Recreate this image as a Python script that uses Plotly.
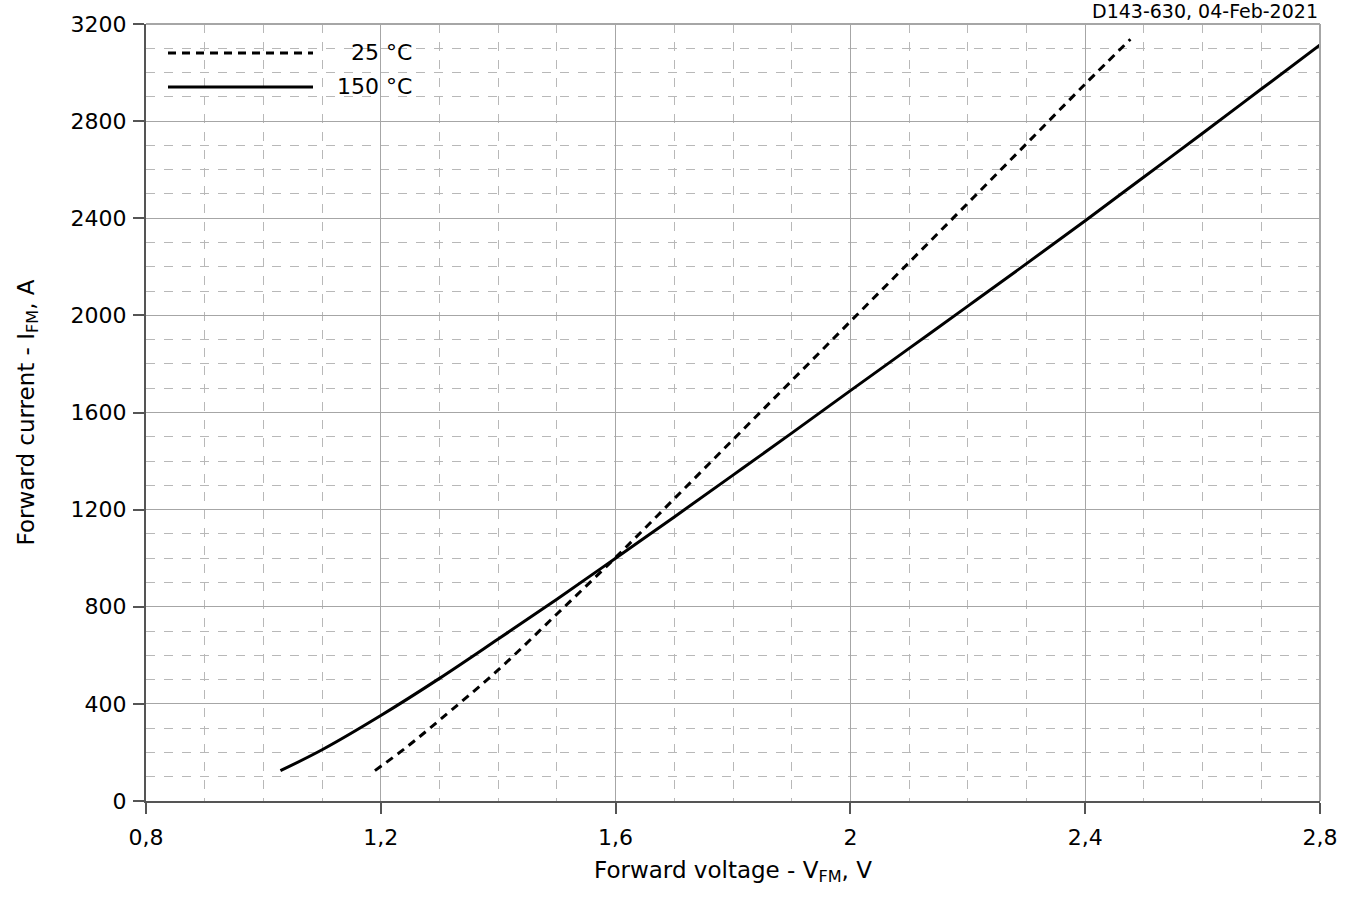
import plotly.graph_objects as go

# 25 °C curve
v_25 = [1.19, 1.245, 1.3, 1.4, 1.5, 1.6, 1.7, 1.8, 1.9, 2.0, 2.1, 2.2, 2.3, 2.4, 2.477]
i_25 = [125, 224, 333, 540, 770, 1003, 1245, 1488, 1731, 1975, 2218, 2462, 2707, 2953, 3137]

# 150 °C curve
v_150 = [1.029, 1.1, 1.2, 1.3, 1.4, 1.5, 1.6, 1.7, 1.8, 1.9, 2.0, 2.1, 2.2, 2.3, 2.4, 2.5, 2.6, 2.7, 2.8]
i_150 = [125, 211, 352, 505, 667, 831, 1000, 1170, 1342, 1515, 1690, 1864, 2038, 2213, 2390, 2570, 2750, 2932, 3114]

x_ticks = [0.8, 1.2, 1.6, 2.0, 2.4, 2.8]
x_labels = ["0,8", "1,2", "1,6", "2", "2,4", "2,8"]
y_ticks = [0, 400, 800, 1200, 1600, 2000, 2400, 2800, 3200]

FONT = "DejaVu Sans"
GRID = "#a6a6a6"
MINOR = "#b8b8b8"
AXIS = "#555555"
DASH = "8px,6px"

fig = go.Figure()
fig.add_trace(go.Scatter(x=v_25, y=i_25, mode="lines", name="25 °C",
                         line=dict(color="black", width=3, dash=DASH, shape="spline"),
                         showlegend=False))
fig.add_trace(go.Scatter(x=v_150, y=i_150, mode="lines", name="150 °C",
                         line=dict(color="black", width=3, shape="spline"),
                         showlegend=False))

fig.update_layout(
    width=1356, height=897,
    margin=dict(l=146, r=36, t=24, b=96),
    paper_bgcolor="white", plot_bgcolor="white",
    font=dict(family=FONT, size=22, color="black"),
    xaxis=dict(range=[0.8, 2.8], tickvals=x_ticks, ticktext=x_labels,
               showgrid=True, gridcolor=GRID, gridwidth=1,
               minor=dict(dtick=0.1, showgrid=True, gridcolor=MINOR, griddash="dash", gridwidth=1),
               showline=True, linecolor=AXIS, linewidth=2,
               ticks="outside", ticklen=11, tickcolor=AXIS, tickwidth=2,
               ticklabelstandoff=5,
               tickfont=dict(family=FONT, size=22),
               zeroline=False,
               title=dict(text="Forward voltage - V<sub>FM</sub>, V", standoff=12,
                          font=dict(family=FONT, size=23))),
    yaxis=dict(range=[0, 3200], tickvals=y_ticks,
               showgrid=True, gridcolor=GRID, gridwidth=1,
               minor=dict(dtick=100, showgrid=True, gridcolor=MINOR, griddash="dash", gridwidth=1),
               showline=True, linecolor=AXIS, linewidth=2,
               ticks="outside", ticklen=11, tickcolor=AXIS, tickwidth=2,
               ticklabelstandoff=2,
               tickfont=dict(family=FONT, size=22),
               zeroline=False,
               title=dict(text="Forward current - I<sub>FM</sub>, A", standoff=30,
                          font=dict(family=FONT, size=23))),
)

# top and right frame
fig.add_shape(type="line", xref="paper", yref="paper", x0=0, x1=1, y0=1, y1=1,
              line=dict(color=GRID, width=2))
fig.add_shape(type="line", xref="paper", yref="paper", x0=1, x1=1, y0=0, y1=1,
              line=dict(color=GRID, width=2))

# legend drawn manually (long line samples, right aligned labels)
legend_items = [("25 °C", DASH, 0.9627), ("150 °C", "solid", 0.919)]
for label, dash, yp in legend_items:
    fig.add_shape(type="line", xref="paper", yref="paper",
                  x0=(168 - 146) / 1174, x1=(313 - 146) / 1174, y0=yp, y1=yp,
                  line=dict(color="black", width=3, dash=dash))
    fig.add_annotation(xref="paper", yref="paper", x=(414 - 146) / 1174, y=yp,
                       text=label, showarrow=False, xanchor="right", yanchor="middle",
                       font=dict(family=FONT, size=22, color="black"))

fig.add_annotation(xref="paper", yref="paper", x=1.0, y=1.0, yshift=0,
                   text="D143-630, 04-Feb-2021", showarrow=False,
                   xanchor="right", yanchor="bottom",
                   font=dict(family=FONT, size=19, color="black"))

fig.write_html("out.html", config={"displayModeBar": False},
               post_script="document.body.style.margin='0px';")
